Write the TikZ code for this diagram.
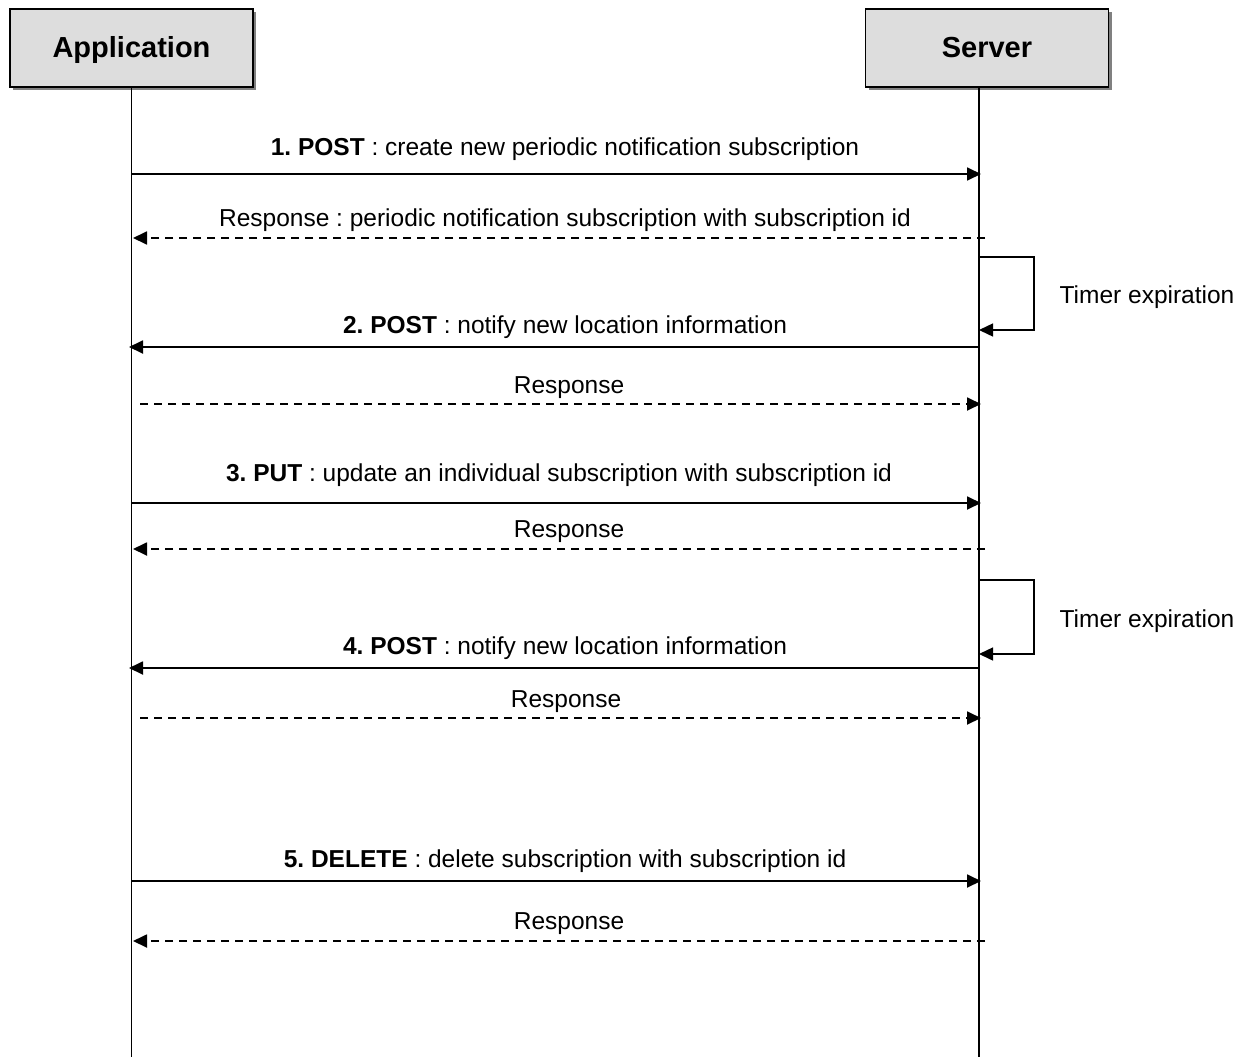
\documentclass[tikz,border=0pt]{standalone}
\usepackage{fontspec}
\setmainfont{Liberation Sans}
\usetikzlibrary{arrows.meta,shadows}

\definecolor{headgray}{HTML}{DDDDDD}
\frenchspacing

\tikzset{>={Triangle[length=14pt,width=13pt]},
	head/.style={draw,line width=1.5pt,fill=headgray,minimum width=243pt,minimum height=78pt,
		text height=26pt,text depth=6pt,
		font=\fontsize{29}{34}\selectfont\bfseries,
		drop shadow={shadow xshift=3pt,shadow yshift=-3pt,fill=gray,opacity=1}},
	life/.style={line width=1.3pt},
	msg/.style={->,line width=1.8pt},
	reply/.style={->,line width=1.8pt,dash pattern=on 8pt off 6pt},
	selfmsg/.style={->,line width=1.5pt},
	lbl/.style={font=\fontsize{24.5}{29}\selectfont,inner sep=0pt}}

\begin{document}
\begin{tikzpicture}[x=1pt,y=-1pt]
		\useasboundingbox (0,0) rectangle (1244,1057);
		
		% lifeline heads
		\node[head] (app) at (131.5,48) {Application};
		\node[head] (srv) at (987,48) {Server};
		\coordinate (append) at (app |- 0,1057);
		\coordinate (srvtop) at (979,87);
		\coordinate (srvend) at (979,1057);
		\draw[life] (app.south) -- (append);
		\draw[life] (srvtop) -- (srvend);
		
		% 1. POST
		\coordinate (a1) at (131,174); \coordinate (s1) at (981,174);
		\draw[msg] (a1) -- (s1);
		\node[lbl] (l1) at (565,149) {\textbf{1. POST} : create new periodic notification subscription};
		\coordinate (s1r) at (985,238); \coordinate (a1r) at (133,238);
		\draw[reply] (s1r) -- (a1r);
		\node[lbl] (l1r) at (565,220) {Response : periodic notification subscription with subscription id};
		
		% first timer
		\coordinate (t1a) at (979,257); \coordinate (t1b) at (979,330);
		\draw[selfmsg] (t1a) -- ++(55,0) |- (t1b);
		\node[lbl] (t1) at (1147,297) {Timer expiration};
		
		% 2. POST
		\coordinate (s2) at (979,347); \coordinate (a2) at (129,347);
		\draw[msg] (s2) -- (a2);
		\node[lbl] (l2) at (565,327) {\textbf{2. POST} : notify new location information};
		\coordinate (a2r) at (140,404); \coordinate (s2r) at (981,404);
		\draw[reply] (a2r) -- (s2r);
		\node[lbl] (l2r) at (569,388) {Response};
		
		% 3. PUT
		\coordinate (a3) at (131,503); \coordinate (s3) at (981,503);
		\draw[msg] (a3) -- (s3);
		\node[lbl] (l3) at (559,475) {\textbf{3. PUT} : update an individual subscription with subscription id};
		\coordinate (s3r) at (985,549); \coordinate (a3r) at (133,549);
		\draw[reply] (s3r) -- (a3r);
		\node[lbl] (l3r) at (569,532) {Response};
		
		% second timer
		\coordinate (t2a) at (979,580); \coordinate (t2b) at (979,654);
		\draw[selfmsg] (t2a) -- ++(55,0) |- (t2b);
		\node[lbl] (t2) at (1147,621) {Timer expiration};
		
		% 4. POST
		\coordinate (s4) at (979,668); \coordinate (a4) at (129,668);
		\draw[msg] (s4) -- (a4);
		\node[lbl] (l4) at (565,648) {\textbf{4. POST} : notify new location information};
		\coordinate (a4r) at (140,718); \coordinate (s4r) at (981,718);
		\draw[reply] (a4r) -- (s4r);
		\node[lbl] (l4r) at (566,702) {Response};
		
		% 5. DELETE
		\coordinate (a5) at (131,881); \coordinate (s5) at (981,881);
		\draw[msg] (a5) -- (s5);
		\node[lbl] (l5) at (565,861) {\textbf{5. DELETE} : delete subscription with subscription id};
		\coordinate (s5r) at (985,941); \coordinate (a5r) at (133,941);
		\draw[reply] (s5r) -- (a5r);
		\node[lbl] (l5r) at (569,924) {Response};
\end{tikzpicture}
\end{document}
